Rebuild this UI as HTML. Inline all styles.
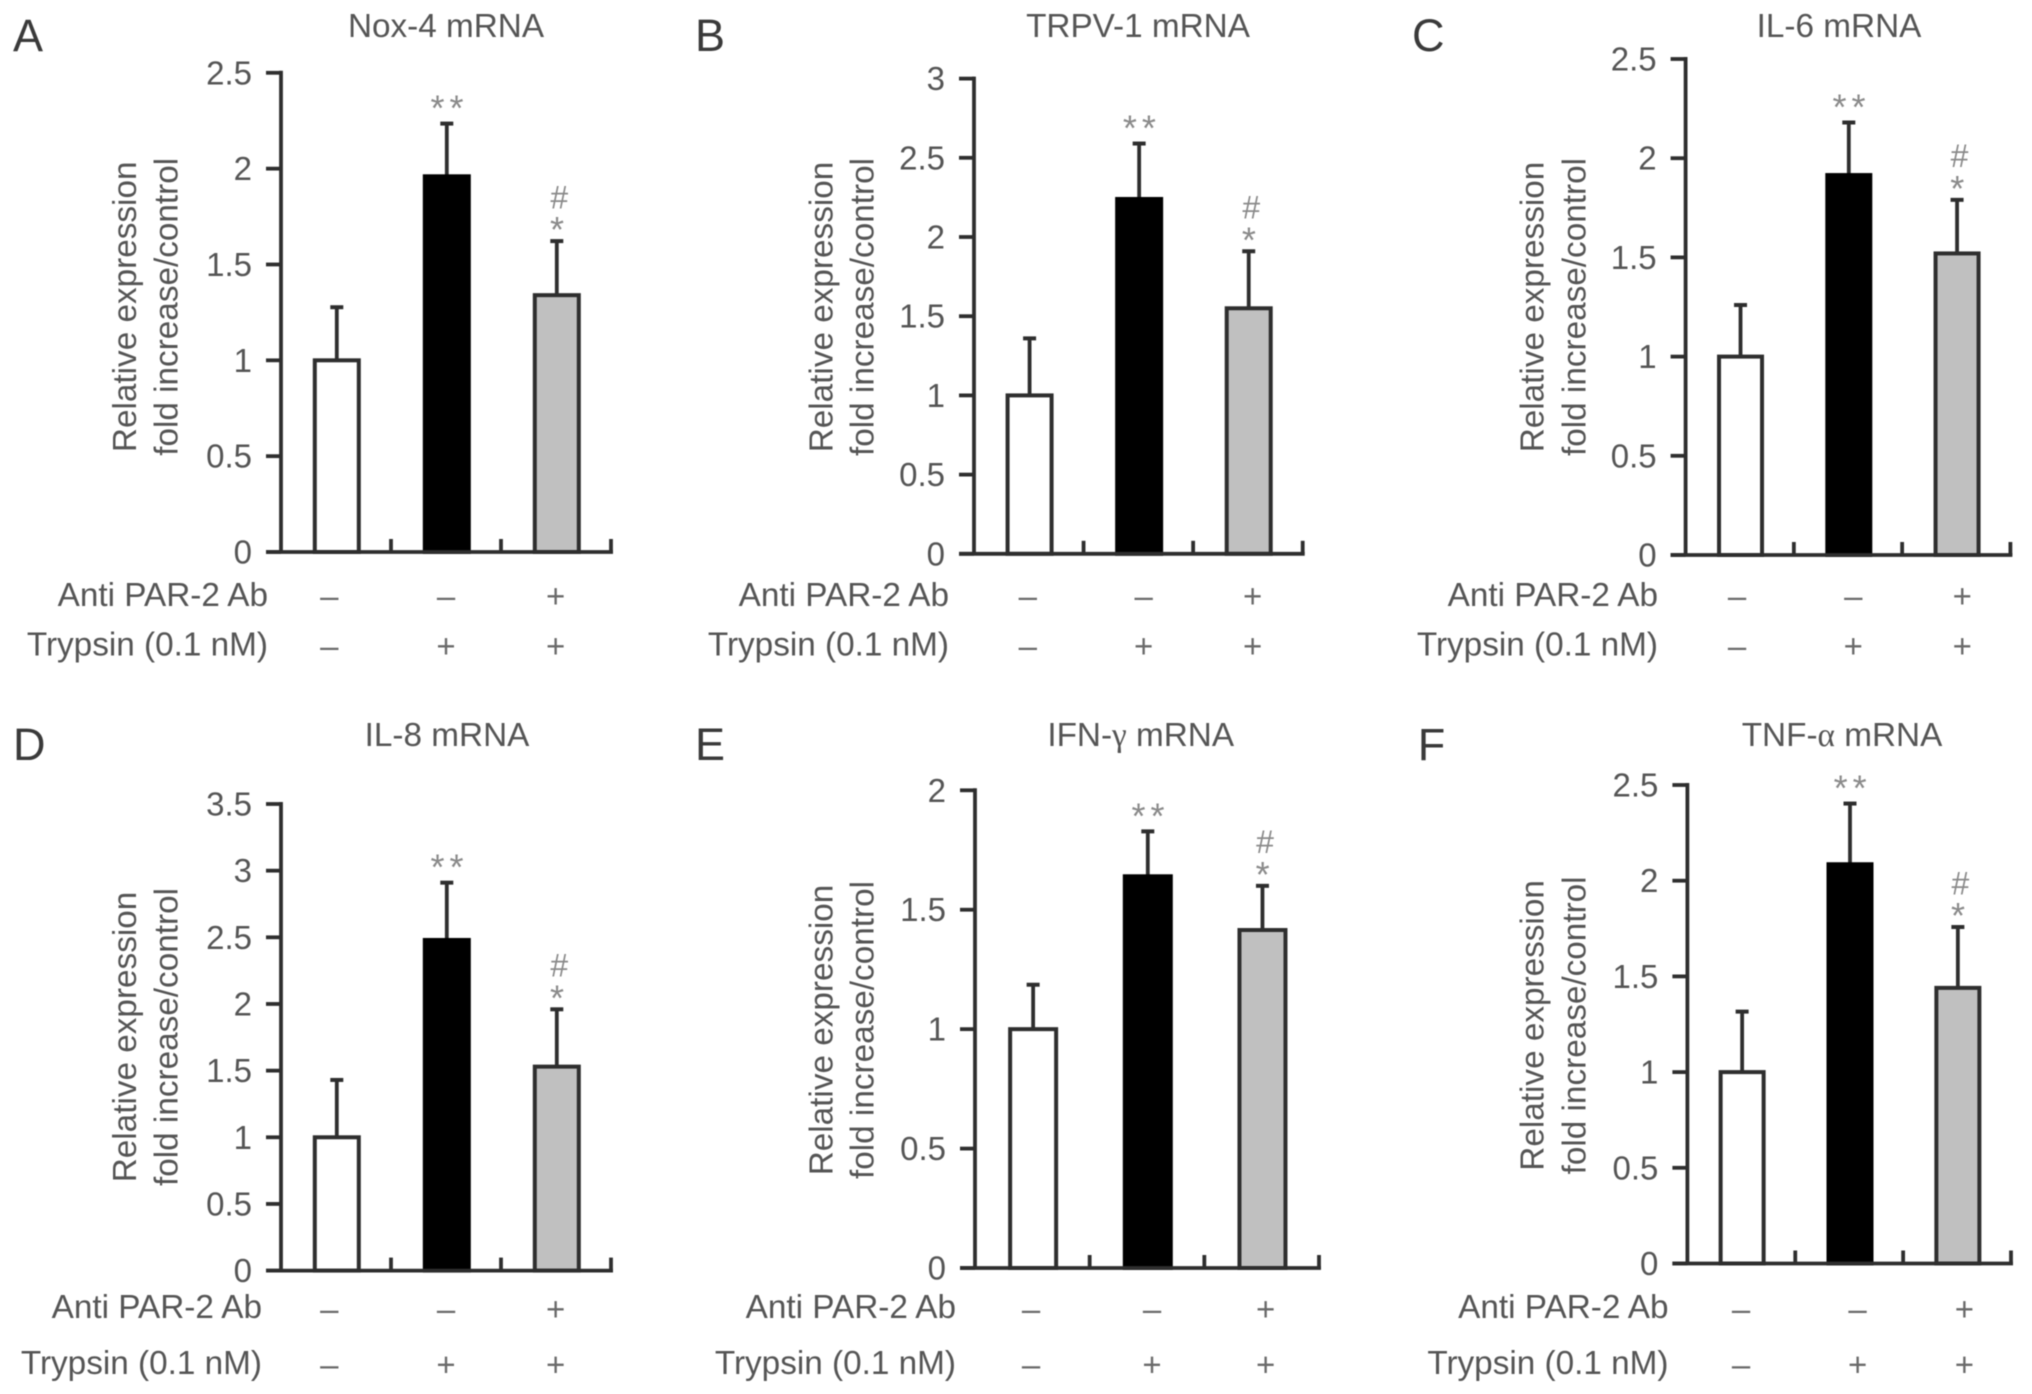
<!DOCTYPE html>
<html lang="en">
<head>
<meta charset="utf-8">
<title>Relative mRNA expression panels</title>
<style>
html,body{margin:0;padding:0;background:#fff;width:2032px;height:1394px;overflow:hidden}
svg{display:block;filter:blur(0.6px)}
text{font-family:"Liberation Sans",sans-serif}
</style>
</head>
<body>
<svg id="figure" xmlns="http://www.w3.org/2000/svg" width="2032" height="1394" viewBox="0 0 2032 1394"></svg>
<script>
// ---- chart data ----
const categories = ['control', 'trypsin', 'trypsin-plus-antibody'];
const antiMarks = ['–', '–', '+'];
const trypsinMarks = ['–', '+', '+'];
const starMarks = ['', '**', '*'];
const hashMarks = ['', '', '#'];

const noxTicks = ['0', '0.5', '1', '1.5', '2', '2.5'];
const noxValues = [1, 1.96, 1.34];
const noxErrorTops = [1.277, 2.235, 1.622];

const trpvTicks = ['0', '0.5', '1', '1.5', '2', '2.5', '3'];
const trpvValues = [1, 2.24, 1.55];
const trpvErrorTops = [1.36, 2.59, 1.91];

const il6Ticks = ['0', '0.5', '1', '1.5', '2', '2.5'];
const il6Values = [1, 1.915, 1.52];
const il6ErrorTops = [1.26, 2.18, 1.79];

const il8Ticks = ['0', '0.5', '1', '1.5', '2', '2.5', '3', '3.5'];
const il8Values = [1, 2.48, 1.53];
const il8ErrorTops = [1.43, 2.91, 1.96];

const ifnTicks = ['0', '0.5', '1', '1.5', '2'];
const ifnValues = [1, 1.64, 1.415];
const ifnErrorTops = [1.186, 1.828, 1.6];

const tnfTicks = ['0', '0.5', '1', '1.5', '2', '2.5'];
const tnfValues = [1, 2.086, 1.44];
const tnfErrorTops = [1.316, 2.403, 1.758];

// ---- panel frames (layout only) ----
const panels = [
  {letter:'A', title:['Nox-4 mRNA'], ticks:noxTicks, values:noxValues, errs:noxErrorTops, bw:44,
   ax:281, ay0:552, ayT:72.8, xEnd:611, lx:13, ly:51, tx:446, ty:37, lab:268, r1:606, r2:655.5, m1:596.7, m2:646.7, mx:[329.3,446,555.7], tl:[125.5,167], tc:306.8},
  {letter:'B', title:['TRPV-1 mRNA'], ticks:trpvTicks, values:trpvValues, errs:trpvErrorTops, bw:44,
   ax:974, ay0:553.8, ayT:78.6, xEnd:1302.7, lx:695, ly:51, tx:1138, ty:37, lab:949, r1:606, r2:655.5, m1:596.7, m2:646.7, mx:[1027.8,1143.7,1252.7], tl:[822,863], tc:307},
  {letter:'C', title:['IL-6 mRNA'], ticks:il6Ticks, values:il6Values, errs:il6ErrorTops, bw:43,
   ax:1685.6, ay0:555, ayT:59, xEnd:2010.4, lx:1412, ly:51, tx:1839, ty:37, lab:1658, r1:606, r2:655.5, m1:596.7, m2:646.7, mx:[1737,1853.3,1962.3], tl:[1533,1575], tc:307},
  {letter:'D', title:['IL-8 mRNA'], ticks:il8Ticks, values:il8Values, errs:il8ErrorTops, bw:44,
   ax:281, ay0:1270.6, ayT:804, xEnd:611, lx:13, ly:759.8, tx:447, ty:746, lab:262, r1:1318, r2:1374, m1:1309.6, m2:1365, mx:[329.3,446,555.7], tl:[125.5,167], tc:1037},
  {letter:'E', title:['IFN-','γ',' mRNA'], ticks:ifnTicks, values:ifnValues, errs:ifnErrorTops, bw:46,
   ax:975, ay0:1268, ayT:790.3, xEnd:1319, lx:695, ly:759.8, tx:1140.7, ty:746, lab:956, r1:1318, r2:1374, m1:1309.6, m2:1365, mx:[1031,1152,1265.6], tl:[822,863], tc:1030},
  {letter:'F', title:['TNF-','α',' mRNA'], ticks:tnfTicks, values:tnfValues, errs:tnfErrorTops, bw:43,
   ax:1687.4, ay0:1263.5, ayT:785, xEnd:2011, lx:1417.7, ly:759.8, tx:1842, ty:746, lab:1668.5, r1:1318, r2:1374, m1:1309.6, m2:1365, mx:[1741,1857.6,1964.4], tl:[1533,1575], tc:1025.4}
];

const NS = 'http://www.w3.org/2000/svg';
const INK = '#2e2e2e';
const TEXT = '#555';
const FONT = 33.3;
const svg = document.getElementById('figure');

function make(tag, attrs, parent, content) {
  const el = document.createElementNS(NS, tag);
  for (const k in attrs) el.setAttribute(k, attrs[k]);
  if (content !== undefined) el.textContent = content;
  parent.appendChild(el);
  return el;
}

function drawPanel(p) {
  const g = make('g', {}, svg);
  
  

  // axis functions
  const yMax = parseFloat(p.ticks[p.ticks.length - 1]);
  const yScale = v => p.ay0 - (v / yMax) * (p.ay0 - p.ayT);
  const step = (p.xEnd - p.ax) / categories.length;
  const xScale = i => p.ax + (i + 0.5) * step + 0.8;

  // panel letter
  const letter = make('text', {x:p.lx, y:p.ly, 'font-size':45, fill:'#3a3a3a'}, g, p.letter);
  
  

  // title
  const title = make('text', {x:p.tx, y:p.ty, 'font-size':FONT, fill:TEXT, 'text-anchor':'middle'}, g);
  
  
  p.title.forEach((part, i) => {
    make('tspan', i === 1 ? {'font-family':'"Liberation Serif",serif'} : {}, title, part);
  });

  // y-axis title
  const yTitle = make('g', {}, g);
  
  
  ['Relative expression', 'fold increase/control'].forEach((line, i) => {
    const cx = p.tl[i];
    make('text', {x:cx, y:p.tc, 'font-size':FONT, fill:TEXT, 'text-anchor':'middle',
      'dominant-baseline':'central', transform:'rotate(-90 ' + cx + ' ' + p.tc + ')'}, yTitle, line);
  });

  // bars
  categories.forEach((cat, i) => {
    const x = xScale(i);
    const yTop = yScale(p.values[i]);
    const yErr = yScale(p.errs[i]);

    const stem = make('line', {x1:x, x2:x, y1:yErr, y2:yTop, stroke:INK, 'stroke-width':3.8}, g);
    
    

    const cap = make('line', {x1:x - 6.5, x2:x + 6.5, y1:yErr, y2:yErr, stroke:INK, 'stroke-width':4}, g);
    
    

    const fills = ['#ffffff', '#000000', '#c0c0c0'];
    const bar = make('rect', {x:x - p.bw / 2, y:yTop, width:p.bw, height:p.ay0 - yTop,
      fill:fills[i], stroke:i === 1 ? '#000' : INK, 'stroke-width':4}, g);
    
    

    if (starMarks[i]) {
      const double = starMarks[i].length > 1;
      const star = make('text', {x:x + (double ? 2.7 : 0.2), y:yErr - (double ? 20 : 16) + 17, 'font-size':36, fill:'#8a8a8a',
        'text-anchor':'middle', 'letter-spacing':double ? 5 : 0}, g, starMarks[i]);
      
      
    }
    if (hashMarks[i]) {
      const hash = make('text', {x:x + 2.5, y:yErr - 43.7 + 11, 'font-size':32, fill:'#8a8a8a',
        'text-anchor':'middle'}, g, hashMarks[i]);
      
      
    }
  });

  // y axis with ticks
  const yAxis = make('line', {x1:p.ax, x2:p.ax, y1:p.ayT - 2, y2:p.ay0, stroke:INK, 'stroke-width':3.8}, g);
  
  
  p.ticks.forEach(t => {
    const y = yScale(parseFloat(t));
    const mark = make('line', {x1:p.ax - 15, x2:p.ax, y1:y, y2:y, stroke:INK, 'stroke-width':3.8}, g);
    
    
    const label = make('text', {x:p.ax - 29, y:y + 11.5, 'font-size':33, fill:TEXT, 'text-anchor':'end'}, g, t);
    
    
  });

  // x axis with ticks
  const xAxis = make('line', {x1:p.ax - 15, x2:p.xEnd + 2, y1:p.ay0, y2:p.ay0, stroke:INK, 'stroke-width':3.8}, g);
  
  
  categories.forEach((cat, i) => {
    const x = p.ax + (i + 1) * step;
    const mark = make('line', {x1:x, x2:x, y1:p.ay0 - 13, y2:p.ay0, stroke:INK, 'stroke-width':3.8}, g);
    
    
  });

  // treatment rows
  const antiLabel = make('text', {x:p.lab, y:p.r1, 'font-size':FONT, fill:TEXT, 'text-anchor':'end'}, g, 'Anti PAR-2 Ab');
  
  
  const trypLabel = make('text', {x:p.lab, y:p.r2, 'font-size':FONT, fill:TEXT, 'text-anchor':'end'}, g, 'Trypsin (0.1 nM)');
  
  

  categories.forEach((cat, i) => {
    const a = make('text', {x:p.mx[i], y:p.m1 + 11, 'font-size':33, fill:'#6a6a6a', 'text-anchor':'middle'}, g, antiMarks[i]);
    
    
    const b = make('text', {x:p.mx[i], y:p.m2 + 11, 'font-size':33, fill:'#6a6a6a', 'text-anchor':'middle'}, g, trypsinMarks[i]);
    
    
  });
}

panels.forEach(drawPanel);
</script>
</body>
</html>
